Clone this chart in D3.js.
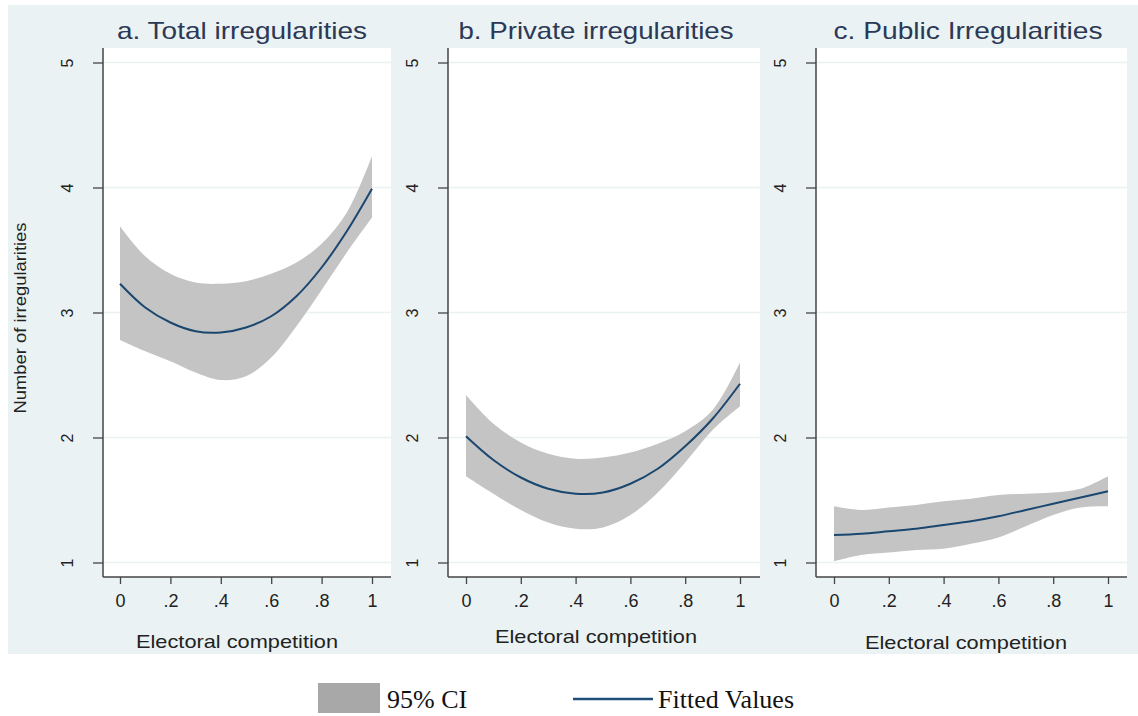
<!DOCTYPE html>
<html>
<head>
<meta charset="utf-8">
<script src="https://cdn.jsdelivr.net/npm/d3@7"></script>
<style>
  body { margin: 0; background: #fff; }
  svg { display: block; font-family: "Liberation Sans", Arial, sans-serif; }
</style>
</head>
<body>
<div id="chart"></div>
<script>
// Data
const xGrid = [0, 0.1, 0.2, 0.3, 0.4, 0.5, 0.6, 0.7, 0.8, 0.9, 1];

const totalFit   = [3.23, 3.04, 2.92, 2.85, 2.84, 2.88, 2.97, 3.13, 3.36, 3.65, 3.99];
const totalUpper = [3.69, 3.45, 3.31, 3.24, 3.23, 3.25, 3.31, 3.40, 3.55, 3.80, 4.25];
const totalLower = [2.78, 2.69, 2.61, 2.52, 2.46, 2.49, 2.64, 2.89, 3.18, 3.48, 3.76];

const privateFit   = [2.01, 1.82, 1.68, 1.59, 1.55, 1.56, 1.63, 1.75, 1.93, 2.15, 2.43];
const privateUpper = [2.34, 2.11, 1.96, 1.87, 1.83, 1.84, 1.88, 1.95, 2.05, 2.22, 2.60];
const privateLower = [1.69, 1.55, 1.42, 1.32, 1.27, 1.28, 1.38, 1.56, 1.80, 2.06, 2.25];

const publicFit   = [1.22, 1.23, 1.25, 1.27, 1.30, 1.33, 1.37, 1.42, 1.47, 1.52, 1.57];
const publicUpper = [1.45, 1.42, 1.44, 1.46, 1.49, 1.51, 1.54, 1.55, 1.56, 1.59, 1.69];
const publicLower = [1.01, 1.06, 1.08, 1.10, 1.11, 1.15, 1.20, 1.29, 1.38, 1.44, 1.45];

const panelTitles = ["a. Total irregularities", "b. Private irregularities", "c. Public Irregularities"];
const yTicks = [1, 2, 3, 4, 5];
const xTicks = [0, 0.2, 0.4, 0.6, 0.8, 1];
const xTickLabels = ["0", ".2", ".4", ".6", ".8", "1"];
const legendLabels = ["95% CI", "Fitted Values"];

// Canvas
const width = 1138, height = 716;
const svg = d3.select("#chart").append("svg")
  .attr("width", width)
  .attr("height", height);

// light blue graph region
svg.append("rect")
  .attr("x", 8).attr("y", 5)
  .attr("width", width - 8).attr("height", 649)
  .attr("fill", "#eaf2f3");

// Panel layout (plot box + x range), text widths follow the stretched original
const plotTop = 48, plotBottom = 577;
const panels = [
  { left: 103, right: 391, x0: 120, x1: 372, titleX: 242, titleW: 250, xTitleX: 237, xTitleY: 648,
    fit: totalFit, upper: totalUpper, lower: totalLower },
  { left: 448, right: 760, x0: 466, x1: 740, titleX: 596, titleW: 275, xTitleX: 596, xTitleY: 643,
    fit: privateFit, upper: privateUpper, lower: privateLower },
  { left: 816, right: 1127, x0: 834, x1: 1108, titleX: 968, titleW: 269, xTitleX: 966, xTitleY: 649,
    fit: publicFit, upper: publicUpper, lower: publicLower }
];

const yScale = d3.scaleLinear().domain([1, 5]).range([562.5, 62.5]);

panels.forEach((p, i) => {
  const xScale = d3.scaleLinear().domain([0, 1]).range([p.x0, p.x1]);
  const g = svg.append("g");

  // white plot region
  g.append("rect")
    .attr("x", p.left).attr("y", plotTop)
    .attr("width", p.right - p.left).attr("height", plotBottom - plotTop)
    .attr("fill", "#fff");

  // gridlines
  g.selectAll(".grid").data(yTicks).enter().append("line")
    .attr("x1", p.left).attr("x2", p.right)
    .attr("y1", d => yScale(d)).attr("y2", d => yScale(d))
    .attr("stroke", "#eaf2f3").attr("stroke-width", 1.5);

  // CI band
  const area = d3.area()
    .x((d, j) => xScale(xGrid[j]))
    .y0((d, j) => yScale(p.lower[j]))
    .y1((d, j) => yScale(p.upper[j]))
    .curve(d3.curveCatmullRom.alpha(0.5));
  g.append("path")
    .datum(xGrid)
    .attr("d", area)
    .attr("fill", "#c4c4c4");

  // fitted line
  const line = d3.line()
    .x((d, j) => xScale(xGrid[j]))
    .y((d, j) => yScale(p.fit[j]))
    .curve(d3.curveCatmullRom.alpha(0.5));
  g.append("path")
    .datum(xGrid)
    .attr("d", line)
    .attr("fill", "none")
    .attr("stroke", "#1a476f")
    .attr("stroke-width", 2);

  // y axis
  const yAxis = d3.axisLeft(yScale).tickValues(yTicks).tickSize(10).tickPadding(0).tickFormat(d3.format("d"));
  const gy = g.append("g")
    .attr("transform", `translate(${p.left},0)`)
    .call(yAxis);
  gy.select(".domain").remove();
  gy.selectAll(".tick line").attr("stroke", "#444").attr("stroke-width", 1.3);
  gy.selectAll(".tick text")
    .attr("x", null).attr("dy", null)
    .attr("transform", "translate(-30,0) rotate(-90)")
    .attr("text-anchor", "middle")
    .attr("font-size", 16)
    .attr("fill", "#222");
  g.append("line")
    .attr("x1", p.left).attr("x2", p.left)
    .attr("y1", plotTop).attr("y2", plotBottom)
    .attr("stroke", "#444").attr("stroke-width", 1.5);

  // x axis
  const xAxis = d3.axisBottom(xScale).tickValues(xTicks).tickSize(7).tickPadding(10)
    .tickFormat((d, j) => xTickLabels[j]);
  const gx = g.append("g")
    .attr("transform", `translate(0,${plotBottom})`)
    .call(xAxis);
  gx.select(".domain").remove();
  gx.selectAll(".tick line").attr("stroke", "#444").attr("stroke-width", 1.3);
  gx.selectAll(".tick text")
    .attr("font-size", 18)
    .attr("fill", "#222");
  g.append("line")
    .attr("x1", p.left).attr("x2", p.right)
    .attr("y1", plotBottom).attr("y2", plotBottom)
    .attr("stroke", "#444").attr("stroke-width", 1.5);

  // panel title
  g.append("text")
    .attr("x", p.titleX)
    .attr("y", 39)
    .attr("text-anchor", "middle")
    .attr("font-size", 24)
    .attr("textLength", p.titleW)
    .attr("lengthAdjust", "spacingAndGlyphs")
    .attr("fill", "#2b3856")
    .text(panelTitles[i]);

  // x axis title
  g.append("text")
    .attr("x", p.xTitleX)
    .attr("y", p.xTitleY)
    .attr("text-anchor", "middle")
    .attr("font-size", 19)
    .attr("textLength", 202)
    .attr("lengthAdjust", "spacingAndGlyphs")
    .attr("fill", "#222")
    .text("Electoral competition");
});

// y axis title
svg.append("text")
  .attr("transform", "translate(26,318) rotate(-90)")
  .attr("text-anchor", "middle")
  .attr("font-size", 17)
  .attr("textLength", 191)
  .attr("lengthAdjust", "spacingAndGlyphs")
  .attr("fill", "#222")
  .text("Number of irregularities");

// legend
const legend = svg.append("g").attr("font-family", "'Liberation Serif', 'Times New Roman', serif");
legend.append("rect")
  .attr("x", 318).attr("y", 683)
  .attr("width", 62).attr("height", 30)
  .attr("fill", "#a8a8a8");
legend.append("text")
  .attr("x", 387).attr("y", 708)
  .attr("font-size", 26)
  .attr("fill", "#111")
  .text(legendLabels[0]);
legend.append("line")
  .attr("x1", 573).attr("x2", 653)
  .attr("y1", 699).attr("y2", 699)
  .attr("stroke", "#1f4e79").attr("stroke-width", 2.5);
legend.append("text")
  .attr("x", 658).attr("y", 708)
  .attr("font-size", 26)
  .attr("fill", "#111")
  .text(legendLabels[1]);
</script>
</body>
</html>
